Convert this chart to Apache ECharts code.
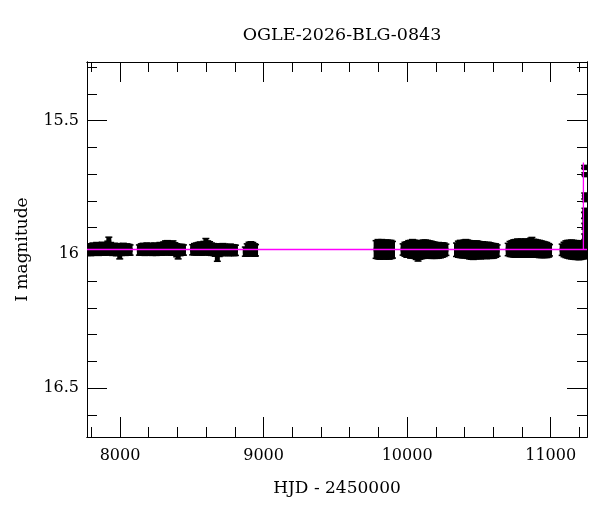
<!DOCTYPE html>
<html>
<head>
<meta charset="utf-8">
<script src="https://cdn.jsdelivr.net/npm/echarts@6/dist/echarts.min.js"></script>
<style>html,body{margin:0;padding:0;background:#fff}#c{width:600px;height:512px}</style>
</head>
<body>
<div id="c"></div>
<script>
// ---- Data (HJD - 2450000, I mag, error) ----
var title = "OGLE-2026-BLG-0843";
var xName = "HJD - 2450000";
var yName = "I magnitude";
var xMin = 7770, xMax = 11253;
var yMin = 15.281, yMax = 16.683;
var xMajorTicks = [8000, 9000, 10000, 11000];
var xMinorTicks = [7800, 8200, 8400, 8600, 8800, 9200, 9400, 9600, 9800, 10200, 10400, 10600, 10800, 11200];
var yMajorTicks = [15.5, 16, 16.5];
var yMinorTicks = [15.3, 15.4, 15.6, 15.7, 15.8, 15.9, 16.1, 16.2, 16.3, 16.4, 16.6];

var season1 = [[7772,15.983,0.022],[7785,15.981,0.021],[7798,15.984,0.022],[7811,15.980,0.023],[7824,15.982,0.022],[7837,15.979,0.024],[7850,15.983,0.022],[7863,15.981,0.023],[7876,15.978,0.024],[7889,15.982,0.022],[7902,15.980,0.024],[7915,15.975,0.025],[7922,15.965,0.030],[7935,15.979,0.024],[7948,15.983,0.022],[7961,15.981,0.023],[7974,15.984,0.022],[7987,15.982,0.023],[7998,15.990,0.028],[8010,15.983,0.022],[8023,15.981,0.023],[8036,15.984,0.021],[8049,15.982,0.022],[8062,15.983,0.021],[8070,15.984,0.020]];
var season2 = [[8135,15.984,0.020],[8148,15.982,0.022],[8161,15.981,0.023],[8174,15.983,0.022],[8187,15.980,0.023],[8200,15.982,0.022],[8213,15.981,0.023],[8226,15.983,0.022],[8239,15.980,0.023],[8252,15.982,0.023],[8265,15.981,0.022],[8278,15.979,0.024],[8291,15.980,0.024],[8304,15.978,0.025],[8317,15.976,0.027],[8330,15.975,0.027],[8343,15.977,0.026],[8356,15.979,0.025],[8369,15.976,0.027],[8382,15.980,0.024],[8395,15.985,0.025],[8405,15.990,0.028],[8418,15.984,0.022],[8431,15.983,0.021],[8442,15.984,0.020]];
var season3 = [[8506,15.983,0.020],[8519,15.981,0.022],[8532,15.980,0.023],[8545,15.979,0.024],[8558,15.978,0.025],[8571,15.980,0.024],[8584,15.977,0.026],[8598,15.970,0.030],[8611,15.976,0.027],[8624,15.978,0.026],[8637,15.981,0.024],[8650,15.982,0.023],[8663,15.984,0.024],[8678,15.995,0.032],[8691,15.985,0.024],[8704,15.983,0.023],[8717,15.982,0.023],[8730,15.983,0.022],[8743,15.984,0.021],[8756,15.985,0.021],[8769,15.983,0.022],[8782,15.984,0.021],[8795,15.985,0.021],[8804,15.985,0.020]];
var season4 = [[8873,15.990,0.018],[8886,15.984,0.024],[8899,15.980,0.026],[8912,15.979,0.027],[8925,15.981,0.026],[8938,15.984,0.024],[8944,15.985,0.022]];
var season5 = [[9784,15.982,0.034],[9797,15.981,0.037],[9810,15.982,0.037],[9823,15.980,0.036],[9836,15.983,0.036],[9849,15.982,0.036],[9862,15.981,0.035],[9875,15.983,0.036],[9888,15.982,0.035],[9898,15.983,0.032]];
var season6 = [[9972,15.982,0.022],[9985,15.981,0.027],[9998,15.982,0.030],[10011,15.980,0.032],[10024,15.981,0.034],[10037,15.979,0.035],[10050,15.981,0.035],[10063,15.984,0.036],[10076,15.990,0.036],[10089,15.984,0.035],[10102,15.982,0.035],[10115,15.981,0.035],[10128,15.980,0.034],[10141,15.981,0.034],[10154,15.982,0.033],[10167,15.983,0.033],[10180,15.984,0.032],[10193,15.985,0.031],[10206,15.986,0.030],[10219,15.985,0.030],[10232,15.985,0.029],[10245,15.984,0.028],[10258,15.983,0.026],[10270,15.983,0.022]];
var season7 = [[10344,15.983,0.026],[10357,15.981,0.031],[10370,15.980,0.033],[10383,15.981,0.033],[10396,15.980,0.034],[10409,15.979,0.035],[10422,15.981,0.035],[10435,15.983,0.035],[10448,15.984,0.035],[10461,15.985,0.035],[10474,15.984,0.034],[10487,15.983,0.034],[10500,15.984,0.033],[10513,15.985,0.033],[10526,15.984,0.032],[10539,15.985,0.031],[10552,15.986,0.031],[10565,15.985,0.031],[10578,15.986,0.030],[10591,15.987,0.029],[10604,15.987,0.028],[10617,15.986,0.026],[10627,15.986,0.022]];
var season8 = [[10704,15.982,0.024],[10717,15.980,0.029],[10730,15.979,0.031],[10743,15.978,0.033],[10756,15.978,0.034],[10769,15.977,0.035],[10782,15.978,0.034],[10795,15.977,0.035],[10808,15.978,0.034],[10821,15.977,0.035],[10834,15.978,0.034],[10847,15.977,0.035],[10860,15.975,0.036],[10869,15.970,0.034],[10882,15.977,0.034],[10895,15.978,0.034],[10908,15.979,0.033],[10921,15.980,0.033],[10934,15.981,0.032],[10947,15.982,0.031],[10960,15.983,0.030],[10973,15.984,0.029],[10986,15.985,0.026],[10992,15.985,0.022]];
var season9 = [[11080,15.983,0.022],[11093,15.982,0.028],[11106,15.981,0.032],[11119,15.981,0.034],[11132,15.982,0.035],[11145,15.982,0.036],[11158,15.983,0.036],[11171,15.984,0.036],[11184,15.984,0.036],[11197,15.985,0.036],[11210,15.985,0.035],[11220,15.984,0.034],[11233,15.984,0.033],[11246,15.984,0.033]];
var risePoints = [[11236,15.673,0.006],[11240,15.678,0.005],[11238,15.700,0.006],[11242,15.704,0.006],[11237,15.782,0.012],[11241,15.792,0.012],[11239,15.835,0.008],[11236,15.855,0.012],[11240,15.875,0.012],[11238,15.895,0.012],[11241,15.915,0.012],[11237,15.935,0.012],[11240,15.955,0.012]];

var modelBase = [[7770,15.982],[11253,15.982]];
var modelPeak = [[11228,15.982],[11228,15.657]];

var allPoints = [].concat(season1, season2, season3, season4, season5, season6, season7, season8, season9, risePoints);

var FONT = "DejaVu Serif";
var MAGENTA = '#ff00ff';

function renderErr(params, api) {
  var x = api.value(0), m = api.value(1), e = api.value(2);
  var a = api.coord([x, m - e]);
  var b = api.coord([x, m + e]);
  var c = api.coord([x, m]);
  var w = 5;
  var y0 = Math.min(a[1], b[1]), y1 = Math.max(a[1], b[1]);
  return {
    type: 'group',
    children: [
      {type: 'rect', shape: {x: c[0] - w / 2, y: y0, width: w, height: y1 - y0}, style: {fill: '#000'}},
      {type: 'rect', shape: {x: c[0] - 3.5, y: y0 - 0.5, width: 7, height: 1.5}, style: {fill: '#000'}},
      {type: 'rect', shape: {x: c[0] - 3.5, y: y1 - 1, width: 7, height: 1.5}, style: {fill: '#000'}},
      {type: 'rect', shape: {x: c[0] - 2.5, y: c[1] - 2, width: 5, height: 4}, style: {fill: '#000'}}
    ]
  };
}

function xAx(pos, ticks, len, opts) {
  return Object.assign({
    type: 'value', position: pos, min: xMin, max: xMax,
    axisLine: {show: true, lineStyle: {color: '#000', width: 1}},
    axisTick: {show: true, inside: true, length: len, customValues: ticks, lineStyle: {color: '#000', width: 1}},
    axisLabel: {show: false},
    splitLine: {show: false}
  }, opts || {});
}
function yAx(pos, ticks, len, opts) {
  return Object.assign({
    type: 'value', position: pos, min: yMin, max: yMax, inverse: true,
    axisLine: {show: true, lineStyle: {color: '#000', width: 1}},
    axisTick: {show: true, inside: true, length: len, customValues: ticks, lineStyle: {color: '#000', width: 1}},
    axisLabel: {show: false},
    splitLine: {show: false}
  }, opts || {});
}

var chart = echarts.init(document.getElementById('c'), null, {renderer: 'canvas'});
chart.setOption({
  animation: false,
  backgroundColor: '#fff',
  color: [MAGENTA],
  title: {
    text: title, left: 337, top: 21, textAlign: 'center',
    textStyle: {fontFamily: FONT, fontSize: 17.5, fontWeight: 'normal', color: '#000'}
  },
  grid: {left: 87, right: 13, top: 62, bottom: 75, containLabel: false, outerBoundsMode: 'none'},
  xAxis: [
    xAx('bottom', xMajorTicks, 20, {
      axisLabel: {show: true, customValues: xMajorTicks, margin: 11, color: '#000', fontFamily: FONT, fontSize: 16,
        formatter: function (v) { return String(v); }},
      name: xName, nameLocation: 'middle', nameGap: 43,
      nameTextStyle: {fontFamily: FONT, fontSize: 17, color: '#000'}
    }),
    xAx('bottom', xMinorTicks, 10),
    xAx('top', xMajorTicks, 20),
    xAx('top', xMinorTicks, 10)
  ],
  yAxis: [
    yAx('left', yMajorTicks, 20, {
      axisLabel: {show: true, customValues: yMajorTicks, margin: 8, color: '#000', fontFamily: FONT, fontSize: 16,
        formatter: function (v) { return String(v); }},
      name: yName, nameLocation: 'middle', nameGap: 56,
      nameTextStyle: {fontFamily: FONT, fontSize: 17, color: '#000'}
    }),
    yAx('left', yMinorTicks, 10),
    yAx('right', yMajorTicks, 20),
    yAx('right', yMinorTicks, 10)
  ],
  series: [
    {
      type: 'custom', name: 'data', xAxisIndex: 0, yAxisIndex: 0,
      renderItem: renderErr, data: allPoints, clip: true,
      encode: {x: 0, y: 1}, z: 2
    },
    {
      type: 'line', name: 'model', xAxisIndex: 0, yAxisIndex: 0, data: modelBase,
      showSymbol: false, symbol: 'none', color: MAGENTA,
      itemStyle: {color: MAGENTA}, lineStyle: {color: MAGENTA, width: 1.3, opacity: 1}, z: 5, clip: true
    },
    {
      type: 'line', name: 'modelPeak', xAxisIndex: 0, yAxisIndex: 0, data: modelPeak,
      showSymbol: false, symbol: 'none', color: MAGENTA,
      itemStyle: {color: MAGENTA}, lineStyle: {color: MAGENTA, width: 1.3, opacity: 1}, z: 5, clip: true
    }
  ]
});
</script>
</body>
</html>
